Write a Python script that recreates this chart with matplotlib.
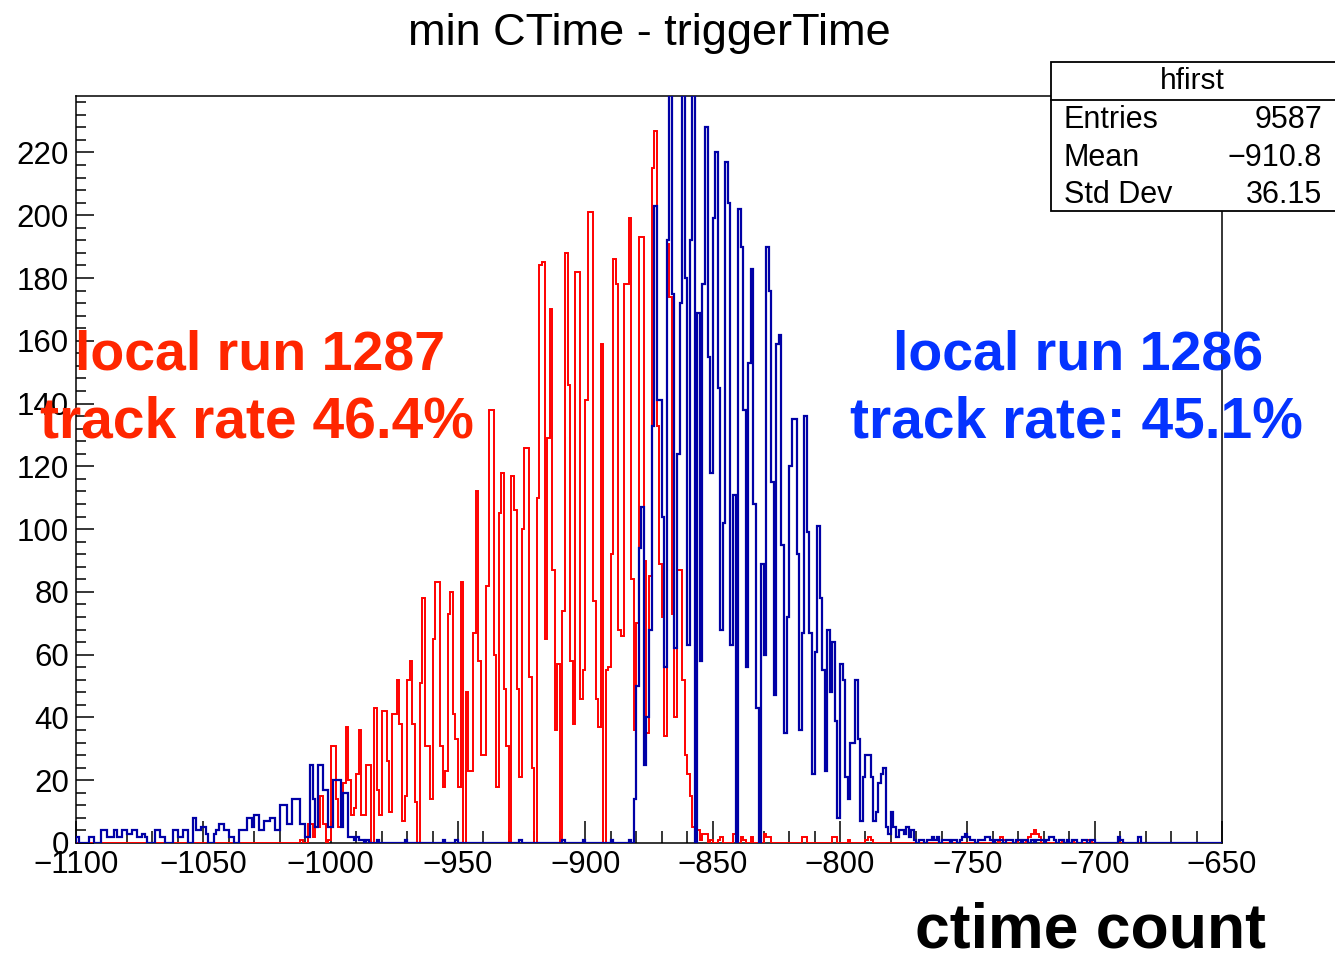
import numpy as np
import matplotlib
matplotlib.use("Agg")
import matplotlib.pyplot as plt
from matplotlib.ticker import MultipleLocator
from matplotlib.patches import Rectangle
from matplotlib.lines import Line2D

plt.rcParams['font.family'] = ['Liberation Sans', 'DejaVu Sans']

# ---------------- data (1-unit bins, labelled by left edge) ----------------
x_min, x_max = -1100, -650

red_start = -1013
red_counts = [
    0, 1, 0, 0, 6, 6, 2, 5, 5, 15,
    6, 0, 1, 31, 31, 14, 5, 5, 19, 37,
    20, 9, 11, 22, 36, 9, 9, 25, 25, 0,
    43, 17, 9, 42, 42, 26, 10, 41, 41, 52,
    38, 7, 15, 52, 58, 38, 13, 0, 51, 78,
    31, 31, 14, 65, 83, 83, 31, 18, 23, 73,
    80, 41, 33, 18, 83, 0, 48, 23, 23, 67,
    112, 58, 28, 28, 82, 138, 138, 60, 18, 105,
    118, 49, 31, 0, 117, 106, 49, 21, 100, 126,
    126, 53, 24, 0, 110, 184, 185, 65, 129, 170,
    87, 36, 57, 0, 74, 188, 146, 58, 38, 182,
    182, 46, 55, 141, 201, 201, 77, 46, 37, 159,
    0, 55, 56, 92, 186, 178, 68, 66, 178, 178,
    199, 84, 36, 70, 193, 193, 90, 35, 85, 215,
    227, 133, 89, 72, 34, 191, 174, 73, 40, 87,
    87, 52, 28, 22, 15, 5, 2, 4, 1, 3,
    3, 0, 1, 0, 0, 1, 2, 0,
]
red_tail_bins = [-842, -841, -839, -838, -835, -830, -829, -828, -815, -814,
                 -803, -802, -797, -790, -789, -788, -757, -740, -739, -737,
                 -736, -730, -729, -727, -726, -725, -724, -723, -722, -713,
                 -709, -703, -702]
red_tail_counts = [3, 1, 2, 1, 2, 3, 2, 2, 2, 2,
                   2, 2, 1, 1, 2, 1, 1, 1, 1, 2,
                   1, 1, 1, 1, 2, 3, 4, 3, 2, 1,
                   1, 1, 1]

blue_low_start = -1100
blue_low_counts = [
    2, 0, 0, 0, 0, 2, 2, 0, 0, 0,
    4, 4, 2, 2, 2, 4, 2, 2, 4, 4,
    3, 3, 4, 4, 2, 2, 3, 2, 0, 0,
    0, 4, 4, 2, 2, 0, 0, 0, 4, 4,
    2, 2, 4, 4, 0, 0, 8, 4, 4, 5,
    5, 3, 0, 0, 3, 4, 6, 6, 4, 4,
    2, 2, 0, 0, 4, 4, 4, 8, 8, 5,
    9, 9, 4, 4, 7, 7, 8, 8, 4, 4,
    12, 12, 12, 6, 6, 14, 14, 14, 6, 6,
    2, 2, 25, 14, 5, 25, 25, 17, 17, 5,
    5, 20, 20, 20, 5, 16, 16, 2, 2, 1,
    2, 1, 1, 0,
]
blue_sparse_bins = [-986, -982, -971, -956, -951, -926, -909, -901, -890, -883]
blue_sparse_counts = [1, 1, 1, 1, 1, 1, 1, 1, 1, 1]

blue_main_start = -881
blue_main_counts = [
    14, 50, 94, 107, 25, 40, 68, 133, 203, 141,
    141, 104, 56, 192, 260, 175, 62, 124, 172, 260,
    180, 63, 192, 260, 0, 169, 58, 178, 228, 155,
    118, 199, 220, 145, 68, 102, 217, 204, 63, 111,
    0, 202, 190, 138, 56, 153, 183, 108, 43, 0,
    89, 60, 190, 176, 115, 47, 159, 162, 95, 35,
    72, 120, 135, 135, 92, 36, 67, 136, 99, 67,
    22, 61, 101, 78, 55, 23, 68, 48, 64, 39,
    8, 57, 52, 21, 14, 32, 32, 52, 33, 7,
    21, 28, 28, 21, 7, 10, 19, 22, 24, 5,
    3, 10, 5, 2, 4, 4, 3, 5, 2, 4,
    1, 0, 1, 1, 0, 1, 1, 2,
]
blue_tail_bins = [-763, -762, -760, -759, -758, -756, -755, -753, -752, -751,
                  -750, -749, -748, -746, -745, -744, -743, -742, -741, -739,
                  -738, -737, -735, -734, -733, -731, -730, -728, -727, -725,
                  -723, -722, -721, -719, -718, -717, -716, -714, -713, -711,
                  -709, -708, -705, -704, -702, -701, -691, -690, -683]
blue_tail_counts = [1, 2, 1, 1, 1, 1, 1, 1, 2, 3,
                    2, 1, 1, 1, 1, 1, 2, 2, 1, 1,
                    1, 1, 1, 1, 1, 1, 1, 1, 1, 1,
                    1, 1, 1, 1, 2, 2, 1, 1, 1, 1,
                    1, 1, 1, 1, 1, 1, 2, 1, 2]

stats_title = "hfirst"
stats_labels = ["Entries", "Mean", "Std Dev"]
stats_values = ["9587", "\u2212910.8", "36.15"]

# ---------------- assemble full histograms ----------------
edges = np.arange(x_min, x_max + 1, 1)
nb = len(edges) - 1


def fill(arr, start, counts):
    i0 = start - x_min
    arr[i0:i0 + len(counts)] = counts


def put(arr, bins, counts):
    for b, c in zip(bins, counts):
        arr[b - x_min] = c


red = np.zeros(nb)
fill(red, red_start, red_counts)
put(red, red_tail_bins, red_tail_counts)

blue = np.zeros(nb)
fill(blue, blue_low_start, blue_low_counts)
put(blue, blue_sparse_bins, blue_sparse_counts)
fill(blue, blue_main_start, blue_main_counts)
put(blue, blue_tail_bins, blue_tail_counts)

# ---------------- figure ----------------
W, H = 1335, 958
fig = plt.figure(figsize=(W / 100, H / 100), dpi=100)
fig.patch.set_facecolor('white')

L, R, T, B = 76, 1222, 96, 843
ax = fig.add_axes([L / W, 1 - B / H, (R - L) / W, (B - T) / H])

ax.stairs(red, edges, color='#ff0000', linewidth=1.4, zorder=3)
ax.stairs(blue, edges, color='#0000a6', linewidth=1.6, zorder=4)

ax.set_xlim(x_min, x_max)
ax.set_ylim(0, 238)

ax.xaxis.set_major_locator(MultipleLocator(50))
ax.xaxis.set_minor_locator(MultipleLocator(10))
ax.yaxis.set_major_locator(MultipleLocator(20))
ax.yaxis.set_minor_locator(MultipleLocator(4))
ax.set_yticks(np.arange(0, 221, 20))

ax.tick_params(axis='x', which='major', direction='in', length=16, width=1.1,
               labelsize=22.5, pad=5, top=False, colors='black')
ax.tick_params(axis='x', which='minor', direction='in', length=8.5, width=1.1, top=False)
ax.tick_params(axis='y', which='major', direction='in', length=13, width=1.1,
               labelsize=22.5, pad=5, right=False)
ax.tick_params(axis='y', which='minor', direction='in', length=7.5, width=1.1, right=False)

for sp in ax.spines.values():
    sp.set_linewidth(1.1)
    sp.set_color('black')


def P(x, y):
    return x / W, 1 - y / H


# title
fig.text(*P(649, 33), "min CTime - triggerTime", ha='center', va='center',
         fontsize=32.5, color='black')

# stats box
bx0, bx1, by0, by1, bsep = 1051, 1345, 62, 211, 100
fig.add_artist(Rectangle(P(bx0, by1), (bx1 - bx0) / W, (by1 - by0) / H,
                         transform=fig.transFigure, facecolor='white',
                         edgecolor='black', linewidth=1.3, zorder=10))
fig.add_artist(Line2D([bx0 / W, bx1 / W], [1 - bsep / H, 1 - bsep / H],
                      transform=fig.transFigure, color='black', linewidth=1.3, zorder=11))
fig.text(*P(1192, 81), stats_title, ha='center', va='center', fontsize=21.5, zorder=12)
for i, (lab, val) in enumerate(zip(stats_labels, stats_values)):
    yy = 120 + i * 37.5
    fig.text(*P(1064, yy), lab, ha='left', va='center', fontsize=22, zorder=12)
    fig.text(*P(1322, yy), val, ha='right', va='center', fontsize=22, zorder=12)

# annotations
red_txt = '#ff2600'
blue_txt = '#0433ff'
fig.text(*P(75, 369), "local run 1287", ha='left', va='baseline', fontsize=40,
         fontweight='bold', color=red_txt, zorder=12)
fig.text(*P(40, 437), "track rate 46.4%", ha='left', va='baseline', fontsize=41,
         fontweight='bold', color=red_txt, zorder=12)
fig.text(*P(893, 369), "local run 1286", ha='left', va='baseline', fontsize=40,
         fontweight='bold', color=blue_txt, zorder=12)
fig.text(*P(850, 437), "track rate: 45.1%", ha='left', va='baseline', fontsize=41,
         fontweight='bold', color=blue_txt, zorder=12)
fig.text(*P(915, 948), "ctime count", ha='left', va='baseline', fontsize=45,
         fontweight='bold', color='black', zorder=12)

fig.savefig("out.png", dpi=100, facecolor='white')
